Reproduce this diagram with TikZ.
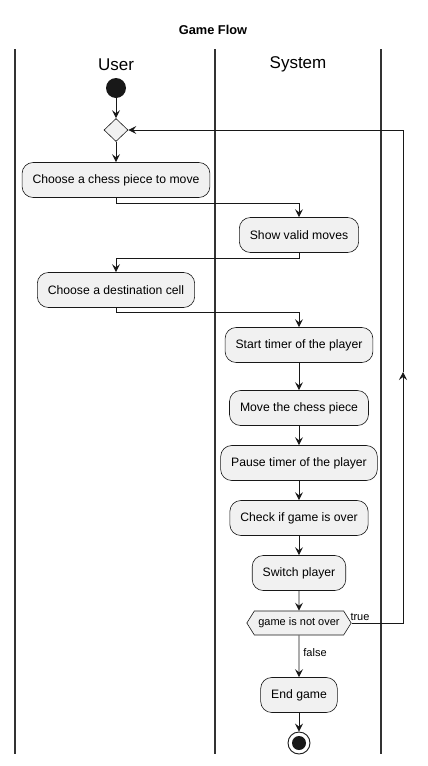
\documentclass[tikz,border=0pt]{standalone}
\usepackage{fontspec}
\setmainfont{Liberation Sans}
\usetikzlibrary{arrows.meta,shapes.geometric,shapes.symbols}
\definecolor{boxfill}{HTML}{F1F1F1}
\definecolor{linecol}{HTML}{181818}
\definecolor{lanecol}{HTML}{333333}
\begin{document}
\begin{tikzpicture}[x=1pt,y=-1pt,
  act/.style={draw=linecol, fill=boxfill, rounded corners=11pt, line width=0.6pt,
    minimum height=35pt, inner xsep=10.5pt, font=\fontsize{12.2}{14}\selectfont},
  flow/.style={draw=linecol, line width=0.9pt, -{Stealth[length=8pt,width=8pt,inset=3pt]}},
  lane/.style={draw=lanecol, line width=1.6pt},
  lbl/.style={font=\fontsize{11}{13}\selectfont, inner sep=0pt},
  hdr/.style={font=\fontsize{17}{20}\selectfont, inner sep=0pt}]
\useasboundingbox (0,0) rectangle (428,766);
% title and lanes
\node[font=\bfseries\fontsize{12.8}{15}\selectfont] (title) at (213,30) {Game Flow};
\draw[lane] (15,49) -- (15,754);
\draw[lane] (215,49) -- (215,754);
\draw[lane] (381,49) -- (381,754);
\node[hdr] (huser) at (116,64.5) {User};
\node[hdr] (hsys) at (298,64.5) {System};
% nodes
\node[circle, fill=linecol, minimum size=20pt, inner sep=0pt] (start) at (116,88) {};
\node[diamond, draw=linecol, fill=boxfill, line width=0.6pt, minimum width=24pt, minimum height=23pt, inner sep=0pt] (dia) at (116,130) {};
\node[act] (b1) at (116,180) {Choose a chess piece to move};
\node[act] (b2) at (299,235) {Show valid moves};
\node[act] (b3) at (116,290) {Choose a destination cell};
\node[act] (b4) at (299,345) {Start timer of the player};
\node[act] (b5) at (299,408) {Move the chess piece};
\node[act] (b6) at (299,463) {Pause timer of the player};
\node[act] (b7) at (299,518) {Check if game is over};
\node[act] (b8) at (299,573) {Switch player};
\node[signal, signal to=east and west, signal pointer angle=116, draw=linecol, fill=boxfill,
  line width=0.6pt, minimum height=24pt, inner xsep=4pt, inner ysep=0pt,
  font=\fontsize{11}{13}\selectfont] (hex) at (299,623) {game is not over};
\node[act] (b9) at (299,695) {End game};
\node[circle, draw=linecol, fill=white, line width=0.9pt, minimum size=22pt, inner sep=0pt] (stop) at (299,743) {};
\node[circle, fill=linecol, minimum size=14pt, inner sep=0pt] (stopin) at (299,743) {};
% connectors
\draw[flow] (start) -- (dia.north);
\draw[flow] (dia.south) -- (b1.north);
\draw[flow] (b1.south) -- ++(0,6) -| (b2.north);
\draw[flow] (b2.south) -- ++(0,6) -| (b3.north);
\draw[flow] (b3.south) -- ++(0,5) -| (b4.north);
\draw[flow] (b4) -- (b5);
\draw[flow] (b5) -- (b6);
\draw[flow] (b6) -- (b7);
\draw[flow] (b7) -- (b8);
\draw[flow] (b8) -- (hex);
\draw[flow] (hex) -- (b9);
\node[lbl] (lfalse) at (315,653) {false};
\draw[flow] (b9) -- (stop);
\coordinate (loopmid) at (403,372);
\draw[flow, line width=0.8pt] (hex.east) -| (loopmid);
\draw[flow, line width=0.8pt] (loopmid) |- (dia.east);
\node[lbl] (ltrue) at (360,617) {true};
\end{tikzpicture}
\end{document}
